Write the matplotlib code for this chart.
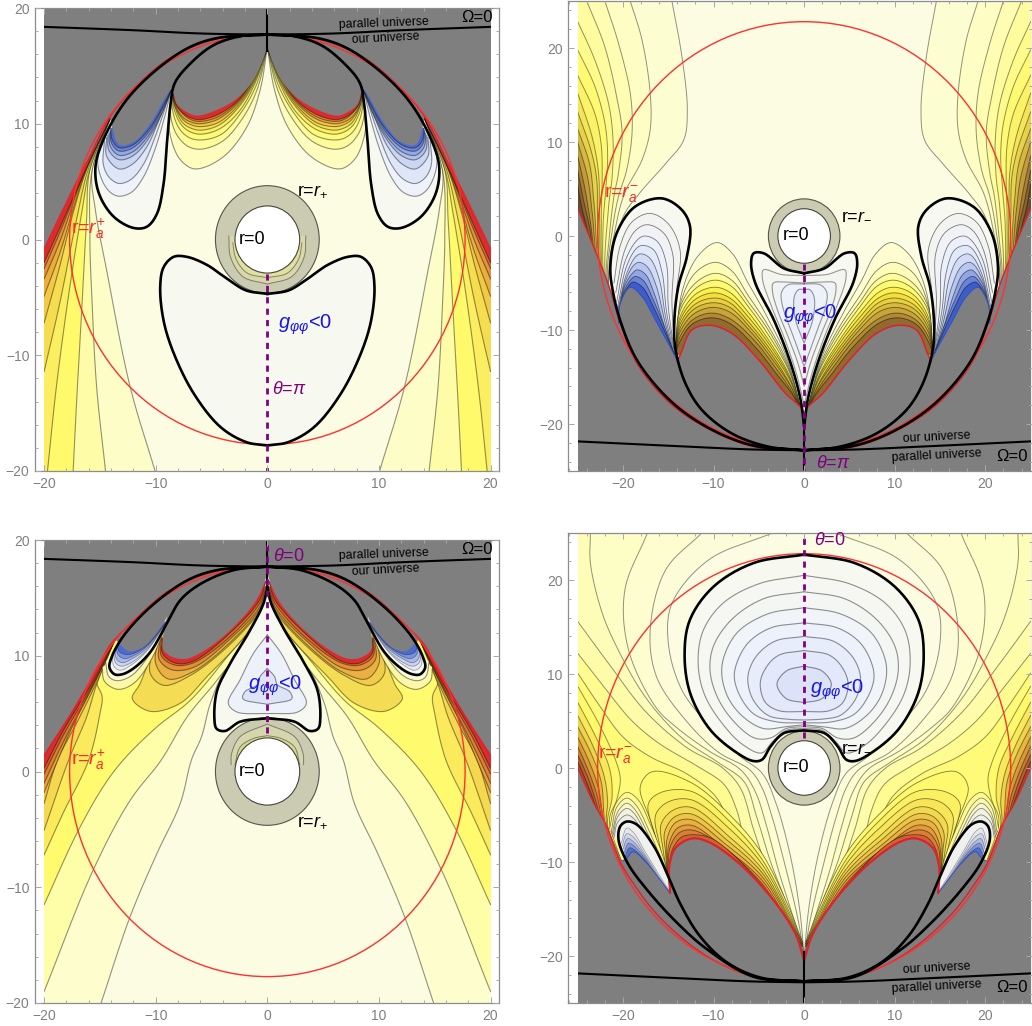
import numpy as np
import matplotlib
matplotlib.use("Agg")
import matplotlib.pyplot as plt
from matplotlib.patches import Circle, Rectangle
from matplotlib.ticker import MultipleLocator

plt.rcParams['font.family'] = ['Liberation Sans', 'DejaVu Sans']
plt.rcParams['mathtext.fontset'] = 'custom'
plt.rcParams['mathtext.rm'] = 'Liberation Sans'
plt.rcParams['mathtext.it'] = 'Liberation Sans:italic'
plt.rcParams['mathtext.bf'] = 'Liberation Sans:bold'

# ---------- values (left half of each symmetric panel) ----------
PLUS_R, MINUS_R, HOLE_R = 4.65, 3.95, 2.9
RA_PLUS, RA_MINUS = 17.72, 22.8

# top-left panel
TL_SIDE = [
    [(-10.06,-20),(-12.3,-12.7),(-14.4,-2.65),(-15.4,2.5),(-15.7,6)],
    [(-14.5,-20),(-15.3,-12.7),(-15.7,-5.5),(-15.9,0.2),(-15.7,6)],
    [(-17.4,-20),(-17.1,-14.2),(-16.6,-5.5),(-16.2,1.7),(-15.9,6)],
    [(-19.7,-20),(-18.9,-12.7),(-17.7,-4.1),(-16.6,2.5),(-15.9,6.1)],
    [(-20,-11.4),(-18.6,-5.5),(-17.1,1.7),(-16,6.2)],
    [(-20,-7.2),(-18.6,-2.3),(-17.4,2.3),(-16.1,6.3)],
    [(-20,-4.9),(-18.6,-1.2),(-16.4,5.6)],
    [(-20,-3.4),(-18.6,-0.2),(-16.4,5.8)],
    [(-20,-2.5),(-18.6,0.6),(-16.3,6)],
    [(-20,-2),(-18.6,1.0),(-16.2,6.2)],
]
TL_SIDE_COLORS = ['#FDFDC8','#FEFCA6','#FFFA6B','#FBEE60','#F6DD50','#F2C845','#EBAE3C','#E3913A','#DC7032','#DB2B2F']
TL_TAIL = [(-13.9,10.9)]
TL_GOLD = [
    [(-8.5,13),(-8.9,11),(-8.6,8.6),(-7.8,6.9),(-6.5,6.1),(-4,7.1),(-1.85,9.7),(-0.65,12.9),(0,16.6)],
    [(-8.5,13),(-8.7,11),(-8.2,9.2),(-7.2,8.1),(-6,7.8),(-4,8.5),(-2.2,10.5),(-0.9,13),(0,16.6)],
    [(-8.5,13),(-8.5,11.2),(-7.9,9.6),(-7,8.8),(-5.9,8.6),(-4.1,9.1),(-2.4,10.9),(-1,13.3),(0,16.6)],
    [(-8.5,13),(-8.4,11.4),(-7.7,9.9),(-6.9,9.3),(-5.9,9.1),(-4.2,9.6),(-2.5,11.1),(-1.1,13.5),(0,16.6)],
    [(-8.5,13),(-8.3,11.5),(-7.6,10.1),(-6.8,9.6),(-5.9,9.45),(-4.3,9.9),(-2.6,11.4),(-1.15,13.6),(0,16.6)],
    [(-8.5,13),(-8.3,11.6),(-7.5,10.3),(-6.8,9.9),(-6,9.75),(-4.4,10.1),(-2.6,11.6),(-1.2,13.7),(0,16.6)],
    [(-8.5,13),(-8.25,11.6),(-7.5,10.5),(-6.7,10.1),(-6,10),(-4.4,10.4),(-2.6,11.8),(-1.2,13.8),(0,16.6)],
    [(-8.5,13),(-8.2,11.7),(-7.4,10.7),(-6.7,10.3),(-6,10.2),(-4.4,10.6),(-2.6,11.95),(-1.25,13.9),(0,16.6)],
    [(-8.5,13),(-8.2,11.7),(-7.4,10.8),(-6.7,10.45),(-6,10.35),(-4.4,10.8),(-2.6,12.05),(-1.25,13.95),(0,16.6)],
]
TL_GOLD_COLORS = ['#FEFDBE','#FEFC9A','#FFFB7A','#FCF164','#F7DF55','#F0C646','#E9A83C','#E08A36','#DB2B2F']
TL_BLUE = [
    [(-14.5,9.2),(-15.2,6.85),(-14.8,5.1),(-14.1,4.1),(-13.3,3.74),(-12.15,4.1),(-11.1,5.4),(-10.1,7.7),(-9.2,10.6),(-8.6,13)],
    [(-14.6,8.5),(-14.7,6.5),(-14.2,5.4),(-13.3,4.84),(-12.2,5.2),(-11.1,6.5),(-10,9),(-8.6,13)],
    [(-14.4,8.8),(-14.4,7.2),(-13.3,6.1),(-12.1,6.5),(-10.8,8),(-9.6,10.6),(-8.6,13)],
    [(-14.3,9),(-14.2,7.7),(-13.3,6.9),(-12.1,7.2),(-10.8,8.5),(-9.4,11),(-8.6,13)],
    [(-14.2,9.2),(-14.05,8),(-13.3,7.28),(-12.1,7.55),(-10.7,8.9),(-9.3,11.3),(-8.6,13)],
    [(-14.1,9.4),(-13.95,8.3),(-13.3,7.65),(-12.1,7.9),(-10.6,9.3),(-9.2,11.7),(-8.6,13)],
    [(-14.05,9.6),(-13.9,8.6),(-13.3,7.94),(-12.1,8.15),(-10.55,9.6),(-9.1,12),(-8.6,13)],
]
TL_BLUE_COLORS = ['#EEF2FA','#DEE6F7','#CBD6F3','#B0C1EC','#93A9E4','#7188DA','#4D6AD0']
TL_LOOP = [(0,17.7),(-4.5,17.4),(-7.2,16.5),(-10.5,14.2),(-12.9,11.7),(-14.7,8.6),(-15.4,6.3),(-15.1,4),(-13.8,2),(-12,1),
           (-10.8,1.1),(-9.9,2.2),(-9.3,4.8),(-9,8.3),(-8.7,11.5),(-8.3,13.5),(-6.9,15.2),(-4.8,16.8),(-2.2,17.6),(0,17.7)]
TL_BLOB = [(0,-4.7),(-1.9,-4.4),(-3.6,-3.4),(-5.4,-2.2),(-7.2,-1.5),(-8.4,-1.5),(-9.3,-2.4),(-9.6,-4.1),(-9.3,-7),(-8.4,-9.8),
           (-6.6,-13.3),(-4.2,-16.2),(-1.9,-17.5),(0,-17.8)]
TL_GRAY = [(-20,-0.9),(-18,3.1),(-16.2,6.6),(-14.7,9.4),(-14.1,10.6),(-14.1,10.6),(-13.9,9.7),(-13.3,8.2),(-12,8.4),(-10.5,10),(-9,12.5),
           (-8.6,13),(-8.6,13),(-8.4,12.6),(-8.1,11.7),(-7.2,11),(-6.3,10.7),(-4.5,11.2),(-2.7,12.2),(-1.3,13.7),(-0.4,15.5),(0,16.7)]
PLUS_ENVELOPE = [(-20,-0.9),(-18,3.1),(-16.2,6.6),(-14.1,10.6),(-12,13),(-9,15.5),(-6,16.9),(-3,17.6),(0,17.72)]
TL_RED_WIDE = [(-20,-0.9),(-18,3.1),(-16.2,6.6)]
TL_CRESCENTS = [[(-3.45,0.3),(-3.3,-1.5),(-2.2,-3.2),(0,-3.85)], [(-3.1,-0.3),(-2.8,-1.7),(-1.8,-2.9),(0,-3.3)]]
OMEGA_PLUS = [(-20,18.37),(-12,18.08),(-6,17.8),(0,17.7)]

# bottom-left panel
BL_SIDE = [
    [(-14.9,-20),(-12.3,-12.55),(-9.9,-7.1),(-7.8,-2.75),(-6.8,1),(-5.9,3),(-5.1,5.9),(-3.8,8.75),(-1.25,11.9),(-0.1,15)],
    [(-20,-19),(-15.6,-8.5),(-12.3,-2.5),(-9.5,1),(-7.2,4.7),(-4.5,7.9),(-1.25,12.2),(-0.1,15)],
    [(-20,-11.5),(-17.1,-5.4),(-14.7,-1.3),(-12.9,1),(-9.9,3.85),(-6.9,6.15),(-3.6,9.9),(-0.95,13.1),(-0.1,15.5)],
    [(-20,-7.2),(-18.3,-3.6),(-16,1),(-15,5),(-14.8,6.45),(-15.3,7.9)],
    [(-20,-5.07),(-17.8,1),(-16.2,4.7),(-15.3,7.5)],
    [(-20,-2.75),(-18.8,1),(-17.1,4.15),(-15.4,7.5)],
    [(-20,-1.8),(-19.3,-0.2),(-17.4,4),(-15.5,7.6)],
    [(-20,-1),(-18.3,2.5),(-15.5,7.7)],
    [(-20,-0.2),(-18.3,3.1),(-15.5,7.8)],
    [(-20,0.3),(-18.3,3.5),(-15.5,8)],
]
BL_SIDE_COLORS = ['#FDFDCE','#FEFDA8','#FFFA6E','#FAEA5C','#F5D850','#EFC044','#E7A03A','#DE7F34','#D9602F','#DB2B2F']
BL_TAIL = [(-13.7,11.3)]
BL_GOLD = [
    [(-10.1,11),(-11.4,7.6),(-12.1,6.3),(-10.5,5.2),(-7.8,5.9),(-5.4,8.2),(-1.85,11.9),(-0.1,14.8)],
    [(-10,11.5),(-10.5,8.5),(-9.3,7.45),(-6.9,8.3),(-3.6,10.75),(-0.7,13.8),(-0.1,15)],
    [(-9.8,11.5),(-10,9.3),(-8.9,8),(-6.7,8.6),(-3.5,11),(-0.7,14),(-0.1,15.5)],
    [(-9.6,11.5),(-9.7,9.7),(-8.6,8.8),(-6.6,9),(-3.5,11.3),(-0.7,14.2),(-0.1,16)],
    [(-9.5,11.5),(-9.5,10),(-8.3,9.2),(-6.6,9.4),(-3.4,11.6),(-0.7,14.5),(-0.1,16)],
    [(-9.4,11.5),(-9.4,10.2),(-8.2,9.35),(-6.6,9.55),(-3.3,12),(-0.7,14.8),(-0.1,16.5)],
]
BL_GOLD_COLORS = ['#F5DC55','#F0CC4B','#E9B043','#E09035','#DA7030','#DB2B2F']
BL_U = [
    [(-14.8,9),(-14.6,7.8),(-13.4,7.1),(-12,7.6),(-10.5,9.5),(-8.9,13)],
    [(-14.5,9.5),(-14.2,8.2),(-13.5,7.85),(-12.3,8.2),(-11,9.5),(-8.9,13)],
]
BL_U_COLORS = ['#FDF8A8','#FBFBD8']
BL_LOOP = [(0,17.7),(-4.5,17.4),(-7.2,16.5),(-10.5,14.2),(-12.9,11.7),(-13.9,10),(-14.15,9),(-13.7,8.4),(-13,8.4),(-12,8.9),
           (-10.5,10.3),(-9,12.8),(-7.8,14.8),(-6,16.2),(-3,17.4),(0,17.7)]
BL_BLUE = [
    [(-13.9,10.2),(-13.75,9.1),(-13.2,8.75),(-12.2,9.2),(-10.8,10.4),(-9,13)],
    [(-13.8,10.3),(-13.6,9.4),(-13.1,9.1),(-12.2,9.4),(-10.8,10.5),(-9,13)],
    [(-13.7,10.5),(-13.5,9.7),(-13,9.4),(-12.2,9.7),(-10.8,10.65),(-9,13)],
    [(-13.6,10.7),(-13.3,10),(-12.8,9.75),(-12.1,9.95),(-10.8,10.8),(-9,13)],
    [(-13.5,10.9),(-13.2,10.3),(-12.6,10.1),(-12,10.2),(-10.8,10.9),(-9,13)],
]
BL_BLUE_COLORS = ['#E8EBF4','#CBD5F2','#A7B8EA','#7A92DE','#4D6AD0']
BL_DROP = [(0,15.9),(-0.35,14.5),(-1.55,12.2),(-3.35,9.3),(-4.5,7),(-4.75,4.7),(-4.55,3.7),(-3.8,3.5),(-2.45,4.3),(0,4.6)]
BL_DROP_INNER = [
    [(0,11.8),(-1.25,10.2),(-2.45,7.9),(-3.5,5.9),(-2.75,5.15),(0,5)],
    [(0,8.9),(-0.65,8.2),(-0.9,7.5),(-2,6.9),(-2.2,6.3),(0,5.8)],
]
BL_DROP_COLORS = ['#EDF1FA','#DDE4F8']
BL_GRAY = [(-20,1.4),(-17.4,5.3),(-15,9.3),(-14.1,10.9),(-13.6,11.4),(-13.6,11.4),(-13.2,11),(-12.45,10.4),(-11.5,10.55),(-10.8,11),(-9.3,12.8),
           (-9,13.4),(-9,13.4),(-9.35,11.6),(-9.3,10.5),(-8.4,9.85),(-7.2,9.75),(-5.4,10.6),(-3,12.5),(-1,14.8),(-0.1,16.8),(0,17.5)]
BL_ENVELOPE = [(-20,1.4),(-17.4,5.3),(-15,9.3),(-14.1,10.9),(-12,13),(-9,15.5),(-6,16.9),(-3,17.6),(0,17.72)]
BL_CRESCENTS = [[(-3.25,0.6),(-3.2,1.55),(-2.45,3),(0,4.1)], [(-2.9,0.6),(-2.45,2.1),(-1.25,2.85),(0,3.1)]]

# top-right panel
TR_LEFT = [
    [(-14.6,25),(-13.5,19.1),(-12.9,13.4),(-13.3,10.2),(-15.3,7.7),(-18.3,4.4),(-20,2),(-21.6,-5)],
    [(-19.2,25),(-17.9,20.85),(-17,15.2),(-17,11.3),(-17.9,8.1),(-19.8,4.6),(-20.8,1),(-21.6,-5)],
    [(-22,25),(-20.5,20.5),(-19.2,15.2),(-19,11),(-19.6,7),(-20.5,4.2),(-21.2,0.5),(-21.7,-5)],
    [(-24,25),(-22,20.1),(-20.7,14.8),(-20.1,11),(-20.5,6.7),(-21,4.2),(-21.5,0),(-21.8,-5)],
    [(-25,22.8),(-23.1,18.7),(-21.6,14.1),(-21.1,10.2),(-21.2,6.3),(-21.6,3),(-21.9,-5)],
    [(-25,19.8),(-23.1,15.9),(-22,12),(-21.7,8.7),(-21.9,5),(-22.2,1),(-22,-5)],
    [(-25,17.1),(-23.1,13),(-22.4,9.6),(-22.3,6),(-22.4,2),(-22.1,-5)],
    [(-25,15.2),(-23.4,10.5),(-22.7,6.7),(-22.6,2.5),(-22.2,-5)],
    [(-25,13.2),(-23.5,9),(-22.9,6),(-22.8,2),(-22.3,-5)],
    [(-25,11.4),(-23.7,7.7),(-23.2,3.5),(-22.4,-5)],
    [(-25,10),(-23.9,6.2),(-23.4,2.5),(-22.5,-5)],
    [(-25,8.5),(-24.2,5),(-23.6,1.5),(-22.6,-5)],
    [(-25,7),(-24.4,4),(-23.7,1),(-22.7,-5)],
    [(-25,5.5),(-24.6,3.2),(-23.9,0.5),(-22.8,-5)],
]
TR_LEFT_COLORS = ['#FDFDD2','#FDFDC4','#FEFDB2','#FEFC9E','#FEFB8A','#FFFA72','#FBF268','#F3E558','#E7D24C','#D6B944','#C29C3C','#A67E36','#8A6230','#6E4A2C']
TR_TAIL = [(-20.4,-9.4)]
TR_GOLD = [
    [(-14.2,-12.5),(-13.5,-6),(-11.7,-2.1),(-9.6,-0.7),(-7.9,-1.9),(-6.3,-4.8),(-4.2,-8.4),(-1.9,-13),(-0.2,-19)],
    [(-14.2,-12.5),(-13.6,-7),(-12,-3.9),(-9.8,-2.8),(-8,-3.7),(-6.2,-6.3),(-4,-9.5),(-1.8,-13.6),(-0.2,-19)],
    [(-14.2,-12.5),(-13.7,-7.6),(-12,-5),(-9.8,-3.97),(-8,-4.7),(-6.1,-7.1),(-3.9,-10.1),(-1.75,-14),(-0.2,-19)],
    [(-14.2,-12.5),(-13.7,-8),(-12,-5.6),(-9.9,-4.7),(-8.1,-5.3),(-6.1,-7.6),(-3.9,-10.6),(-1.7,-14.3),(-0.2,-19)],
    [(-14.2,-12.5),(-13.7,-8.6),(-12,-6.2),(-9.9,-5.45),(-8.2,-6),(-6.1,-8.2),(-3.9,-11.1),(-1.7,-14.7),(-0.2,-19)],
    [(-14.2,-12.5),(-13.7,-9),(-12.1,-6.8),(-10,-6.05),(-8.2,-6.6),(-6,-8.8),(-3.8,-11.6),(-1.65,-15),(-0.2,-19)],
    [(-14.2,-12.5),(-13.7,-9.4),(-12.1,-7.3),(-10,-6.6),(-8.2,-7.1),(-6,-9.3),(-3.8,-12),(-1.6,-15.3),(-0.2,-19)],
    [(-14.2,-12.5),(-13.7,-9.8),(-12.2,-7.8),(-10.1,-7.1),(-8.2,-7.6),(-5.9,-9.8),(-3.7,-12.5),(-1.6,-15.7),(-0.2,-19)],
    [(-14.2,-12.5),(-13.7,-10.2),(-12.2,-8.3),(-10.2,-7.6),(-8.2,-8.1),(-5.8,-10.3),(-3.6,-13),(-1.5,-16),(-0.2,-19)],
    [(-14.2,-12.5),(-13.7,-10.7),(-12.3,-8.9),(-10.3,-8.2),(-8.2,-8.8),(-5.6,-11),(-3.4,-13.7),(-1.4,-16.5),(-0.2,-19)],
    [(-14.2,-12.5),(-13.7,-11.2),(-12.4,-9.4),(-10.3,-8.7),(-8.2,-9.3),(-5.4,-11.8),(-3.1,-14.6),(-1.2,-17),(-0.2,-19)],
]
TR_GOLD_COLORS = ['#FDFDD0','#FDFCB8','#FEFB9A','#FFFA70','#FBF050','#F3E040','#E8D040','#D8BB3C','#C8A53A','#B08A35','#906A30']
TR_LOOP = [(0,-22.8),(-5.6,-22.3),(-10.4,-20.5),(-14.7,-17.6),(-18.4,-13.3),(-20.2,-9.3),(-21.1,-6),(-21.4,-3.3),(-20.7,0.3),(-18.7,3.1),(-15.7,4),
           (-13.5,2.77),(-12.6,1),(-12.95,-2.2),(-13.9,-5.4),(-14.35,-9.3),(-14.2,-12.1),(-13.1,-15.7),(-11.3,-18.5),(-8,-21),(-4,-22.4),(0,-22.8)]
TR_BLUE = [
    [(-21,-5),(-20.3,-1),(-19,1.5),(-17,2.4),(-15,1.3),(-13.7,-1.5),(-14.1,-6),(-14.35,-11)],
    [(-20.8,-6),(-19.8,-1.5),(-18.6,0.6),(-17.3,1.2),(-15.5,0.3),(-14.5,-2),(-14.6,-7),(-14.3,-12)],
    [(-20.7,-7),(-19.7,-2.5),(-18.4,-0.4),(-17.6,0),(-16.2,-0.6),(-15.2,-3),(-15,-7.5),(-14.3,-12.5)],
    [(-20.6,-7.5),(-19.6,-3.2),(-18.5,-1.3),(-17.8,-1),(-16.6,-1.5),(-15.7,-3.8),(-15.2,-8),(-14.3,-12.5)],
    [(-20.6,-8),(-19.6,-4),(-18.6,-2.2),(-18,-1.9),(-17,-2.4),(-16,-4.6),(-15.3,-8.6),(-14.3,-12.8)],
    [(-20.6,-8.3),(-19.7,-4.7),(-18.8,-3.1),(-18.2,-2.8),(-17.3,-3.3),(-16.3,-5.4),(-15.4,-9),(-14.3,-13)],
    [(-20.5,-8.6),(-19.8,-5.3),(-18.9,-3.9),(-18.4,-3.6),(-17.5,-4.1),(-16.6,-6),(-15.5,-9.4),(-14.3,-13)],
    [(-20.5,-8.8),(-19.9,-5.9),(-19,-4.5),(-18.6,-4.3),(-17.7,-4.8),(-16.7,-6.7),(-15.3,-10),(-14.2,-13)],
    [(-20.5,-9),(-20,-6.4),(-19.1,-5),(-18.8,-4.9),(-17.8,-5.5),(-16.6,-7.6),(-15.1,-10.8),(-14.1,-13.1)],
]
TR_BLUE_COLORS = ['#F3F4F2','#F0F2F5','#EBF0FA','#E2E9FA','#D2DCF6','#B8C7F0','#92A6E4','#6A85D8','#3F5DC8']
TR_DROP = [(0,-3.97),(-2.25,-3.44),(-4.46,-1.84),(-5.57,-1.84),(-5.86,-2.9),(-5.4,-5),(-3.36,-8.9),(-1.5,-13.5),(-0.4,-17.4),(0,-20.3)]
TR_DROP_INNER = [
    [(0,-4.2),(-2.5,-4.1),(-4.5,-3.6),(-4.6,-4.6),(-3.6,-7.5),(-2.25,-10.7),(-0.9,-14.5),(0,-18)],
    [(0,-5),(-2,-4.9),(-3.4,-5),(-3.5,-5.9),(-2.9,-8),(-1.9,-10.4),(-0.7,-13.5),(0,-16)],
    [(0,-5.1),(-1.8,-5.2),(-2.5,-6),(-2.4,-7.4),(-1.3,-10.4),(0,-13.9)],
    [(0,-5.7),(-0.6,-5.7),(-1.1,-6.5),(-0.95,-8.9),(0,-11.4)],
]
TR_DROP_COLORS = ['#F3F5EE','#F0F3F3','#EDF1FA','#E6EBFA']
TR_OUTER = [(-25,2.9),(-23.3,-1),(-21.5,-5.5),(-20.7,-8),(-20.5,-9.3)]
TR_BLUE_EDGE = [(-20.5,-9.3),(-20.3,-7.2),(-19.2,-5.46),(-17.9,-6.45),(-16.45,-8.9),(-14.8,-11.8),(-14,-13.3)]
TR_GOLD_EDGE = [(-14,-13.3),(-13.6,-12.45),(-12.4,-10),(-10.4,-9.5),(-8,-10.35),(-5,-13.2),(-2.1,-16.7),(-0.2,-18.5),(0,-20)]
TR_ENVELOPE = [(-25,2.9),(-23.3,-1),(-21.5,-5.5),(-20.3,-9.3),(-18.5,-13.5),(-14.8,-17.8),(-10.4,-20.6),(-5.6,-22.4),(0,-22.8)]
OMEGA_MINUS = [(-25,-21.85),(-13,-22.4),(-6,-22.7),(0,-22.8)]

# bottom-right panel
BR_FAN = [
    [(-3.5,25),(-10.6,22.1),(-14.6,17.5),(-15,13.3),(-13.5,8.3),(-10.2,4.2),(-7,1.2),(-4.6,-0.6),(-3.2,-3.5),(-1.6,-9),(-0.5,-15),(0,-20)],
    [(-11.3,25),(-15.3,21.06),(-17,14.7),(-16.3,9.7),(-13.1,5.1),(-9.5,1.7),(-6,-0.2),(-4.7,-2),(-3.6,-5),(-2.2,-10),(-0.7,-16),(0,-20)],
    [(-17.3,25),(-19.8,18.9),(-19.4,12.6),(-16.4,6.5),(-14.2,4.4),(-10.5,1.8),(-7,-0.2),(-5.4,-2.5),(-4.2,-6),(-2.8,-11),(-1,-16.5),(0,-20)],
    [(-23.6,25),(-23.6,21.8),(-22.3,16.5),(-20.5,12.5),(-17.5,7.5),(-13.5,3.2),(-9.5,0.6),(-6.6,-1.5),(-5.3,-5),(-3.7,-10),(-1.5,-15.5),(0,-20)],
    [(-25,15.6),(-21.5,11),(-17.5,6),(-13,2.2),(-9,0),(-7,-2.2),(-5.6,-6.5),(-4,-11),(-1.8,-16),(0,-20)],
    [(-25,12.2),(-22,8.5),(-19,5),(-16,2.6),(-12,0.3),(-8.8,-1.8),(-7.4,-4.6),(-6.5,-8),(-4.5,-12),(-2,-16.5),(0,-20)],
    [(-25,10.1),(-22.5,6.5),(-20,3.3),(-17,1.2),(-13,-0.6),(-9.8,-3),(-8.2,-6),(-6.5,-10),(-3.5,-14.5),(-0.8,-18.5)],
]
BR_FAN_COLORS = ['#FCFCD8','#FDFDD0','#FDFDC6','#FDFDB8','#FEFCA8','#FEFB90','#FFFA78']
BR_LEFT = [
    [(-25,8.7),(-22.5,4.4),(-20.7,0.5),(-20.3,-1.2),(-20.7,-3.4),(-21.5,-5.5)],
    [(-25,7),(-23,3.3),(-21.5,0),(-21.2,-3),(-21.7,-6)],
    [(-25,5.6),(-23.3,2.3),(-22.1,-0.8),(-21.7,-3.5),(-21.8,-6)],
    [(-25,4.4),(-23.5,1.5),(-22.4,-1.5),(-21.9,-6.2)],
    [(-25,3.3),(-23.7,0.6),(-22.7,-2.2),(-22,-6.2)],
    [(-25,2.3),(-23.9,-0.1),(-22.9,-2.8),(-22.1,-6.2)],
    [(-25,1.4),(-24,-0.7),(-23.1,-3.2),(-22.2,-6.2)],
    [(-25,0.7),(-24.2,-1.1),(-23.2,-3.6),(-22.3,-6.2)],
]
BR_LEFT_COLORS = ['#FFF96B','#F8E85A','#EFD34B','#E5B83E','#D89A38','#C97C33','#B85D30','#A04A2C']
BR_TAIL = [(-20.2,-9.9)]
BR_GOLD = [
    [(-15.5,-10),(-17,-5.5),(-18.1,-2),(-16.8,-0.4),(-12.4,-1.6),(-8,-5.2),(-4.65,-9.1),(-1.7,-14.8),(-0.2,-18.5)],
    [(-15.2,-11),(-16.5,-7),(-17.2,-3.8),(-15.8,-2.6),(-12.4,-2.5),(-8,-5.9),(-4.6,-9.8),(-1.7,-15.2),(-0.2,-18.5)],
    [(-15.1,-11.5),(-16,-8),(-16.4,-5),(-15,-3.6),(-12.4,-3.4),(-8.2,-6.5),(-4.6,-10.3),(-1.65,-15.6),(-0.2,-18.7)],
    [(-15.1,-11.5),(-15.6,-8.5),(-15.8,-6),(-14.5,-4.5),(-12.4,-4.2),(-8.4,-7.2),(-4.6,-10.8),(-1.6,-16),(-0.2,-18.7)],
    [(-15.1,-11.5),(-15.3,-9),(-15.4,-6.8),(-14.3,-5.2),(-12.4,-4.9),(-8.6,-7.6),(-4.6,-11.2),(-1.55,-16.3),(-0.2,-18.7)],
    [(-15,-12),(-15.2,-9.5),(-15.1,-7.4),(-14.2,-5.8),(-12.4,-5.5),(-8.8,-8),(-4.6,-11.6),(-1.5,-16.6),(-0.2,-18.8)],
    [(-15,-12),(-15.1,-10),(-14.9,-8),(-14,-6.4),(-12.4,-6.1),(-9.2,-8.2),(-4.6,-12),(-1.45,-17),(-0.2,-18.9)],
    [(-15,-12),(-15,-10.5),(-14.8,-8.4),(-13.8,-6.9),(-12.4,-6.6),(-9.5,-8),(-4.65,-12.3),(-1.4,-17.2),(-0.2,-19)],
    [(-15,-12),(-14.9,-11),(-14.6,-8.8),(-13.6,-7.4),(-12.4,-7.1),(-10,-7.6),(-4.65,-12.5),(-1.2,-17.5),(-0.2,-19)],
]
BR_GOLD_COLORS = ['#FFF96E','#FBF062','#F7E658','#F2D84E','#EDC647','#E8B241','#E19A3C','#D98036','#CF6433']
BR_U = [
    [(-21.5,-6.5),(-20.8,-3.8),(-19.6,-2.6),(-18.4,-3.3),(-16.9,-6.2),(-15.4,-10),(-14.8,-13)],
    [(-21.3,-6.8),(-20.7,-4.2),(-19.6,-3.2),(-18.6,-3.9),(-17.2,-6.5),(-15.7,-10),(-14.8,-13)],
    [(-21.2,-7),(-20.6,-4.7),(-19.6,-3.75),(-18.7,-4.4),(-17.3,-6.9),(-15.7,-10.4),(-14.8,-13)],
    [(-21.1,-7.2),(-20.6,-5.2),(-19.6,-4.3),(-18.8,-4.8),(-17.4,-7.2),(-15.6,-10.8),(-14.8,-13)],
    [(-21,-7.4),(-20.6,-5.8),(-19.6,-5),(-18.8,-5.4),(-17.3,-7.8),(-15.5,-11.2),(-14.8,-13)],
]
BR_U_COLORS = ['#FEFA90','#FCF9B0','#F8F6CC','#F3F2E0','#EEEEE8']
BR_LOOP = [(0,-22.7),(-5.6,-22.2),(-10.7,-19.3),(-14,-16.5),(-17.4,-12.9),(-19.5,-10.1),(-20.5,-7.6),(-20.3,-6.2),(-19.6,-5.7),(-18.5,-6),(-16.6,-8.3),
           (-15.15,-11.2),(-13.7,-14.4),(-11.5,-17.9),(-8.5,-20.7),(-4.8,-22.3),(0,-22.7)]
BR_BLUE = [
    [(-20.2,-8),(-19.6,-6.4),(-18.9,-6.8),(-17.5,-9),(-15.6,-12),(-14.6,-13.5)],
    [(-20.1,-8.3),(-19.6,-7),(-18.9,-7.3),(-17.5,-9.3),(-15.6,-12.2),(-14.6,-13.5)],
    [(-20,-8.6),(-19.5,-7.5),(-18.9,-7.8),(-17.5,-9.5),(-15.6,-12.4),(-14.6,-13.5)],
    [(-19.9,-9),(-19.4,-8),(-18.9,-8.2),(-17.5,-9.7),(-15.6,-12.6),(-14.6,-13.5)],
    [(-19.8,-9.4),(-19.3,-8.5),(-18.9,-8.6),(-17.5,-9.9),(-15.6,-12.8),(-14.6,-13.5)],
]
BR_BLUE_COLORS = ['#E6E8EE','#D0D6E8','#AEBADF','#8294D6','#5370C8']
BR_DROP = [(0,22.7),(-5.6,21.8),(-10,19.3),(-12.6,15.8),(-13.2,12.2),(-12.6,8),(-10.4,4.1),(-7.4,1.6),(-5.6,0.74),(-4.65,0.89),(-3.7,2.3),(-2.25,3.7),(0,4)]
BR_DROP_INNER = [
    [(0,20.5),(-5,19.6),(-9,17.5),(-11.2,14.5),(-11.7,11),(-11,7.8),(-9.1,4.8),(-6.8,2.5),(-4.7,1.6),(-3.5,2.8),(-2,4),(0,4.2)],
    [(0,18.75),(-4.5,18),(-8,15.8),(-10,13),(-10.4,10.5),(-9.7,7.8),(-8,5.2),(-5.5,3.2),(-3.7,3.2),(-2,4.2),(0,4.4)],
    [(0,17.05),(-4,16.4),(-7.3,14.5),(-8.8,12),(-9.1,10),(-8.4,7.5),(-6.8,5.5),(-4.5,4.2),(-2,4.4),(0,4.6)],
    [(0,15.45),(-3.7,14.9),(-6.2,13.3),(-7.5,11),(-7.7,9.5),(-7,7.5),(-5.5,5.7),(-3,4.9),(0,4.8)],
    [(0,14),(-3.2,13.5),(-5.2,12),(-6.1,10.3),(-6.2,9),(-5.6,7.2),(-4,5.6),(-2,5.2),(0,5.1)],
    [(0,12.5),(-2.8,12),(-4.2,10.7),(-4.85,9),(-4.3,7),(-2.8,6.1),(0,6)],
    [(0,10.85),(-2,10.3),(-3,8.9),(-2,7.4),(0,6.95)],
]
BR_DROP_COLORS = ['#F6F7F2','#F4F6F4','#F1F4F8','#EDF1FB','#E8EDFB','#E3E9FA','#DCE3F9']
BR_OUTER = [(-25,0),(-23.3,-3.6),(-21.8,-6.2),(-21,-8),(-20.1,-9.9)]
BR_BLUE_EDGE = [(-20.1,-9.9),(-19.6,-9.6),(-18.9,-8.9),(-17.4,-10.1),(-14.8,-13.3)]
BR_GOLD_EDGE = [(-14.8,-13.3),(-14.9,-10.5),(-14.2,-8.5),(-12.4,-7.5),(-10.6,-7.85),(-7.6,-9.8),(-4.65,-12.6),(-2.07,-15.8),(-0.8,-18),(0,-20.5)]
BR_ENVELOPE = [(-25,0),(-23.3,-3.6),(-21.8,-6.2),(-20.3,-10),(-18.7,-12.5),(-16.5,-15.3),(-13.1,-18.4),(-9.5,-20.7),(-5.5,-22.2),(0,-22.8)]

X_MAJOR = 10
X_MINOR = 2

GRAY = '#7F7F7F'
BASE = '#FCFCE2'
PALE = '#F7F8F0'
OLIVE = '#CBCBB2'
RED = '#FF2A2A'
BLUE = '#1414F0'
PURPLE = '#800080'
LOOP_LW = 1.9


def smooth(pts, n=14):
    """Centripetal Catmull-Rom through the read points; a doubled point makes a cusp."""
    pts = np.asarray(pts, float)
    parts, start = [], 0
    for i in range(1, len(pts)):
        if np.allclose(pts[i], pts[i - 1]):
            parts.append(pts[start:i])
            start = i
    parts.append(pts[start:])
    out = []
    for p in parts:
        if len(p) < 2:
            out.append(p)
            continue
        q = np.vstack([2 * p[0] - p[1], p, 2 * p[-1] - p[-2]])
        for i in range(1, len(q) - 2):
            a, b, c, d = q[i - 1], q[i], q[i + 1], q[i + 2]
            t0 = 0.0
            t1 = t0 + np.linalg.norm(b - a) ** 0.5
            t2 = t1 + np.linalg.norm(c - b) ** 0.5
            t3 = t2 + np.linalg.norm(d - c) ** 0.5
            t = np.linspace(t1, t2, n, endpoint=False)[:, None]
            a1 = (t1 - t) / (t1 - t0) * a + (t - t0) / (t1 - t0) * b
            a2 = (t2 - t) / (t2 - t1) * b + (t - t1) / (t2 - t1) * c
            a3 = (t3 - t) / (t3 - t2) * c + (t - t2) / (t3 - t2) * d
            b1 = (t2 - t) / (t2 - t0) * a1 + (t - t0) / (t2 - t0) * a2
            b2 = (t3 - t) / (t3 - t1) * a2 + (t - t1) / (t3 - t1) * a3
            out.append((t2 - t) / (t2 - t1) * b1 + (t - t1) / (t2 - t1) * b2)
        out.append(p[-1:])
    s = np.vstack(out)
    return s[:, 0], s[:, 1]


class Panel:
    def __init__(self, box, xlim, ylim, lim):
        L, R, T, B = box
        W, H = 1032.0, 1026.0
        self.ax = fig.add_axes([L / W, 1 - B / H, (R - L) / W, (B - T) / H])
        ax = self.ax
        ax.set_xlim(*xlim)
        ax.set_ylim(*ylim)
        self.z = 1.0
        self.clip = Rectangle((-lim, -lim), 2 * lim, 2 * lim, transform=ax.transData)
        ax.set_axisbelow(False)
        ax.xaxis.set_major_locator(MultipleLocator(X_MAJOR))
        ax.yaxis.set_major_locator(MultipleLocator(X_MAJOR))
        ax.xaxis.set_minor_locator(MultipleLocator(X_MINOR))
        ax.yaxis.set_minor_locator(MultipleLocator(X_MINOR))
        ax.tick_params(which='both', direction='in', top=True, right=True, color='#A8A8A8', labelcolor='#808080', labelsize=10, width=0.7)
        ax.tick_params(which='major', length=4, pad=4)
        ax.tick_params(which='minor', length=2)
        for s in ax.spines.values():
            s.set_color('#8C8C8C')
            s.set_linewidth(0.9)
        ax.fill([-lim, lim, lim, -lim], [-lim, -lim, lim, lim], fc=BASE, lw=0, zorder=self.next_z())

    def next_z(self):
        self.z += 0.004
        return self.z

    def _clip(self, artists):
        for a in artists:
            a.set_clip_path(self.clip)

    def band(self, pts, color, side=False, alpha=0.42, lw=0.8):
        x, y = smooth(pts)
        xx, yy = x, y
        if side:
            if y[0] < y[-1]:
                xx = np.r_[x, -60, -60]
                yy = np.r_[y, 60, -60]
            else:
                xx = np.r_[x, -60, -60]
                yy = np.r_[y, -60, 60]
        for s in (1, -1):
            self._clip(self.ax.fill(s * xx, yy, fc=color, ec='none', lw=0, zorder=self.next_z()))
            if alpha:
                self._clip(self.ax.plot(s * x, y, color='k', alpha=alpha, lw=lw, zorder=self.next_z()))

    def sym(self, pts, color, alpha=0.42, lw=0.8):
        x, y = smooth(pts)
        xx = np.r_[x, -x[::-1]]
        yy = np.r_[y, y[::-1]]
        self._clip(self.ax.fill(xx, yy, fc=color, ec='none', lw=0, zorder=self.next_z()))
        if alpha:
            self._clip(self.ax.plot(xx, yy, color='k', alpha=alpha, lw=lw, zorder=self.next_z()))

    def gray(self, pts, up):
        x, y = smooth(pts)
        c = 60 if up else -60
        xx = np.r_[x, -x[::-1], 60, 60, -60, -60]
        yy = np.r_[y, y[::-1], y[0], c, c, y[0]]
        self._clip(self.ax.fill(xx, yy, fc=GRAY, ec='none', lw=0, zorder=self.next_z()))

    def line(self, pts, color='k', lw=LOOP_LW, alpha=1.0):
        x, y = smooth(pts)
        for s in (1, -1):
            self._clip(self.ax.plot(s * x, y, color=color, lw=lw, alpha=alpha, solid_capstyle='round', zorder=self.next_z()))

    def blob_line(self, pts, lw=LOOP_LW):
        x, y = smooth(pts)
        xx = np.r_[x, -x[::-1]]
        yy = np.r_[y, y[::-1]]
        self._clip(self.ax.plot(xx, yy, color='k', lw=lw, zorder=self.next_z()))

    def ra_circle(self, r):
        c = Circle((0, 0), r, fc='none', ec='#FF3030', lw=1.0, zorder=self.next_z())
        self.ax.add_patch(c)
        c.set_clip_path(self.clip)

    def hole(self, outer, crescents, cres_colors):
        self.ax.add_patch(Circle((0, 0), outer, fc=OLIVE, ec='#55554A', lw=0.8, zorder=self.next_z()))
        for pts, col in zip(crescents, cres_colors):
            self.sym(pts, col, alpha=0.4, lw=0.7)
        self.ax.add_patch(Circle((0, 0), HOLE_R, fc='white', ec='#44443C', lw=0.8, zorder=self.next_z()))

    def spike(self, y0, y1, lw=1.5):
        self.ax.plot([0, 0], [y0, y1], color='k', lw=lw, zorder=self.next_z(), solid_capstyle='butt')

    def dash(self, y0, y1):
        self.ax.plot([0, 0], [y0, y1], color=PURPLE, lw=2.0, dashes=(2.2, 1.9), zorder=self.next_z())

    def text(self, x, y, s, color='k', size=11.5, rot=0):
        self.ax.text(x, y, s, color=color, fontsize=size, rotation=rot, ha='center', va='center', zorder=3)


fig = plt.figure(figsize=(10.32, 10.26), dpi=100, facecolor='white')

# ---------- top-left ----------
p = Panel((35, 499, 8, 471), (-20.82, 20.76), (-20, 20), 20)
for c, col in zip(TL_SIDE, TL_SIDE_COLORS):
    p.band(c + TL_TAIL, col, side=True)
for c, col in zip(TL_GOLD, TL_GOLD_COLORS):
    p.band(c, col)
p.band(TL_LOOP, PALE, alpha=0)
for c, col in zip(TL_BLUE, TL_BLUE_COLORS):
    p.band(c, col)
p.sym(TL_BLOB, PALE, alpha=0)
p.hole(PLUS_R, TL_CRESCENTS, ['#D8D8AC', '#E0E0A0'])
p.gray(TL_GRAY, True)
p.line(PLUS_ENVELOPE, '#E0202A', 1.0)
p.line(TL_RED_WIDE, '#DB2B2F', 1.8)
p.ra_circle(RA_PLUS)
p.line(TL_LOOP)
p.blob_line(TL_BLOB)
p.line(OMEGA_PLUS, lw=1.5)
p.spike(16.2, 20)
p.dash(-3, -20)
p.text(-1.35, 0, 'r=0', size=13)
p.text(4.1, 4.2, r'r=$r_{+}$', size=13)
p.text(-16, 0.95, r'r=$r_{a}^{+}$', RED, 14)
p.text(3.4, -7.4, r'$g_{\varphi\varphi}$<0', BLUE, 14.5)
p.text(2, -13, r'$\theta$=$\pi$', PURPLE, 13)
p.text(10.4, 18.7, 'parallel universe', 'k', 8.8, 2)
p.text(10.6, 17.4, 'our universe', 'k', 8.8, 3)
p.text(18.75, 19.2, 'Ω=0', 'k', 12)

# ---------- top-right ----------
p = Panel((568.3, 1031.5, 1, 471), (-26.04, 25.1), (-25, 25), 25)
for c, col in zip(TR_LEFT, TR_LEFT_COLORS):
    p.band(c + TR_TAIL, col, side=True, lw=0.7)
for c, col in zip(TR_GOLD, TR_GOLD_COLORS):
    p.band(c, col, alpha=0.5, lw=0.6)
p.band(TR_LOOP, PALE, alpha=0)
for c, col in zip(TR_BLUE, TR_BLUE_COLORS):
    p.band(c, col, alpha=0.5, lw=0.6)
p.sym(TR_DROP, PALE, alpha=0)
for c, col in zip(TR_DROP_INNER, TR_DROP_COLORS):
    p.sym(c, col, alpha=0.38)
p.hole(MINUS_R, [], [])
p.gray(TR_OUTER + TR_BLUE_EDGE[:1] + TR_BLUE_EDGE + TR_GOLD_EDGE[:1] + TR_GOLD_EDGE, False)
p.line(TR_ENVELOPE, '#E0202A', 1.0)
p.line(TR_BLUE_EDGE, '#2F50C8', 0.7)
p.line(TR_GOLD_EDGE, '#E0202A', 1.1)
p.ra_circle(RA_MINUS)
p.line(TR_LOOP)
p.blob_line(TR_DROP)
p.line(OMEGA_MINUS, lw=1.5)
p.spike(-19.5, -25)
p.dash(-3, -25)
p.text(-0.9, 0, 'r=0', size=13)
p.text(5.8, 2.34, r'r=$r_{-}$', size=13)
p.text(-20.2, 4.4, r'r=$r_{a}^{-}$', RED, 14)
p.text(0.7, -8.4, r'$g_{\varphi\varphi}$<0', BLUE, 14.5)
p.text(3.2, -24.2, r'$\theta$=$\pi$', PURPLE, 13)
p.text(14.6, -21.4, 'our universe', 'k', 8.8, 3)
p.text(14.6, -23.4, 'parallel universe', 'k', 8.8, 3)
p.text(23, -23.5, 'Ω=0', 'k', 12)

# ---------- bottom-left ----------
p = Panel((35, 499, 540, 1003), (-20.82, 20.76), (-20, 20), 20)
for i, (c, col) in enumerate(zip(BL_SIDE, BL_SIDE_COLORS)):
    p.band(c if i < 3 else c + BL_TAIL, col, side=True)
for c, col in zip(BL_GOLD, BL_GOLD_COLORS):
    p.band(c, col)
for c, col in zip(BL_U, BL_U_COLORS):
    p.band(c, col)
p.band(BL_LOOP, PALE, alpha=0)
for c, col in zip(BL_BLUE, BL_BLUE_COLORS):
    p.band(c, col, alpha=0.35, lw=0.6)
p.sym(BL_DROP, PALE, alpha=0)
for c, col in zip(BL_DROP_INNER, BL_DROP_COLORS):
    p.sym(c, col)
p.hole(PLUS_R, BL_CRESCENTS, ['#D5D5AE', '#D8D890'])
p.gray(BL_GRAY, True)
p.line(BL_ENVELOPE, '#E0202A', 1.0)
p.ra_circle(RA_PLUS)
p.line(BL_LOOP)
p.blob_line(BL_DROP)
p.line(OMEGA_PLUS, lw=1.5)
p.spike(15.8, 20)
p.dash(3.3, 20)
p.text(-1.35, 0, 'r=0', size=13)
p.text(4.1, -4.35, r'r=$r_{+}$', size=13)
p.text(-16, 1, r'r=$r_{a}^{+}$', RED, 14)
p.text(0.7, 7.45, r'$g_{\varphi\varphi}$<0', BLUE, 14.5)
p.text(1.9, 18.6, r'$\theta$=0', PURPLE, 13)
p.text(10.4, 18.75, 'parallel universe', 'k', 8.8, 2)
p.text(10.6, 17.4, 'our universe', 'k', 8.8, 3)
p.text(18.75, 19.2, 'Ω=0', 'k', 12)

# ---------- bottom-right ----------
p = Panel((568.3, 1031.5, 533, 1003), (-26.04, 25.1), (-25, 25), 25)
for c, col in zip(BR_FAN, BR_FAN_COLORS):
    p.band(c, col, side=True, lw=0.7)
for c, col in zip(BR_LEFT, BR_LEFT_COLORS):
    p.band(c + BR_TAIL, col, side=True, lw=0.7)
for c, col in zip(BR_GOLD, BR_GOLD_COLORS):
    p.band(c, col, alpha=0.5, lw=0.6)
for c, col in zip(BR_U, BR_U_COLORS):
    p.band(c, col, alpha=0.45, lw=0.6)
p.band(BR_LOOP, '#F0F0EE', alpha=0)
for c, col in zip(BR_BLUE, BR_BLUE_COLORS):
    p.band(c, col, alpha=0.35, lw=0.5)
p.sym(BR_DROP, PALE, alpha=0)
for c, col in zip(BR_DROP_INNER, BR_DROP_COLORS):
    p.sym(c, col, alpha=0.42)
p.hole(MINUS_R, [], [])
p.gray(BR_OUTER + BR_BLUE_EDGE[:1] + BR_BLUE_EDGE + BR_GOLD_EDGE[:1] + BR_GOLD_EDGE, False)
p.line(BR_ENVELOPE, '#E0202A', 1.0)
p.line(BR_BLUE_EDGE, '#2F50C8', 0.7)
p.line(BR_GOLD_EDGE, '#E0202A', 1.6)
p.ra_circle(RA_MINUS)
p.line(BR_LOOP)
p.blob_line(BR_DROP)
p.line(OMEGA_MINUS, lw=1.5)
p.spike(-19.5, -25)
p.dash(3.2, 25)
p.text(-0.9, 0.1, 'r=0', size=13)
p.text(5.8, 2.3, r'r=$r_{-}$', size=13)
p.text(-20.8, 1.3, r'r=$r_{a}^{-}$', RED, 14)
p.text(3.65, 8.3, r'$g_{\varphi\varphi}$<0', BLUE, 14.5)
p.text(2.85, 24.2, r'$\theta$=0', PURPLE, 13)
p.text(14.6, -21.35, 'our universe', 'k', 8.8, 3)
p.text(14.6, -23.3, 'parallel universe', 'k', 8.8, 3)
p.text(23, -23.4, 'Ω=0', 'k', 12)

fig.savefig('out.png', dpi=100)
